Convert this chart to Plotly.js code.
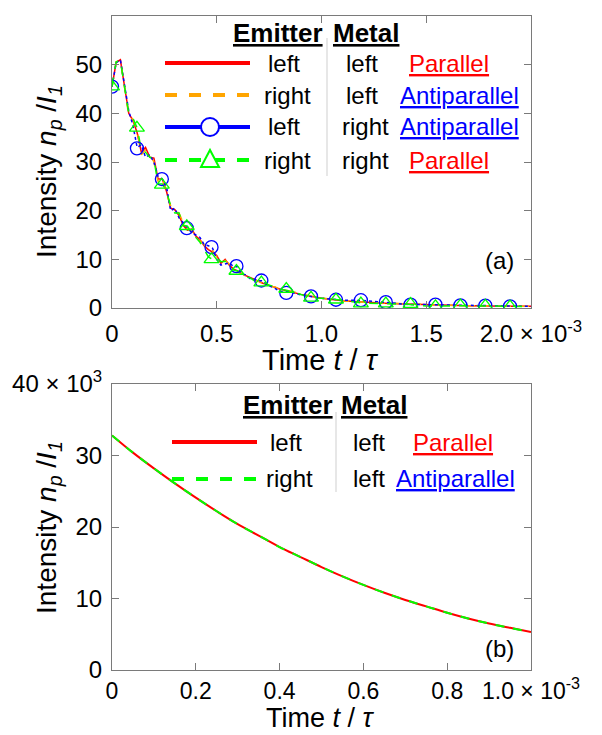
<!DOCTYPE html>
<html><head><meta charset="utf-8">
<script src="https://cdn.plot.ly/plotly-3.0.1.min.js"></script>
<style>body{margin:0;background:#fff}</style>
</head><body><div id="chart" style="width:602px;height:735px"></div>
<script>
// ---- Panel (a): time in units of 1e-3, intensity in units of 1e3 ----
const timeA = [0,0.02,0.04,0.06,0.08,0.10,0.12,0.14,0.16,0.18,0.20,0.22,0.24,0.26,0.28,0.30,0.32,0.34,0.36,0.38,0.40,0.42,0.44,0.46,0.48,0.50,0.52,0.54,0.56,0.58,0.60,0.62,0.64,0.66,0.68,0.70,0.72,0.74,0.76,0.78,0.80,0.85,0.90,0.95,1.00,1.10,1.20,1.30,1.40,1.50,1.60,1.70,1.80,1.90,2.00];
const redA    = [45.5,50.5,51.0,45.5,40.0,38.5,36.0,32.0,33.0,31.0,30.8,26.5,26.5,24.0,20.5,20.2,19.0,17.0,16.0,16.2,14.8,14.0,12.8,12.0,11.5,10.8,9.2,10.0,8.8,8.0,7.6,7.0,6.6,6.2,5.8,5.4,5.1,4.8,4.5,4.2,3.9,3.4,2.8,2.4,2.0,1.5,1.2,1.0,0.8,0.65,0.55,0.48,0.42,0.38,0.34];
const orangeA = [45.5,50.6,51.0,45.0,39.5,38.8,36.5,31.5,32.5,31.5,30.0,26.0,27.0,23.5,21.0,20.0,19.5,17.5,16.2,15.8,15.0,13.8,13.0,11.8,11.8,10.5,9.5,9.8,9.0,8.2,7.4,7.1,6.5,6.3,5.7,5.5,5.0,4.9,4.4,4.3,3.8,3.5,2.9,2.4,2.1,1.5,1.2,1.0,0.8,0.66,0.55,0.48,0.42,0.38,0.34];
const blueA   = [45.5,50.4,51.0,46.0,40.5,37.5,33.0,33.5,31.0,31.5,30.0,27.0,26.5,25.0,20.0,20.5,18.5,17.5,16.5,15.5,15.0,14.5,13.0,12.8,12.3,10.0,8.8,9.0,9.3,8.5,8.5,7.0,6.8,6.0,5.9,5.6,5.6,4.8,4.4,4.0,3.4,3.3,2.7,2.4,2.0,1.6,1.55,1.2,0.75,0.7,0.6,0.5,0.5,0.35,0.33];
const greenA  = [45.5,50.6,50.8,45.0,40.0,39.0,37.0,32.5,32.0,31.0,30.5,25.5,25.5,24.0,21.0,19.5,19.5,17.0,16.8,15.5,14.5,13.5,12.0,10.5,10.0,10.5,9.5,9.6,8.5,7.8,7.6,7.0,6.4,6.2,5.6,5.2,5.2,4.8,4.6,4.2,3.9,3.5,2.8,2.1,2.0,1.6,1.0,0.9,0.8,0.4,0.5,0.45,0.4,0.3,0.3];
const markerTimeA = [0,0.119,0.238,0.357,0.475,0.594,0.713,0.832,0.95,1.069,1.188,1.307,1.425,1.544,1.663,1.782,1.9];
const circleA   = [45.5,32.8,26.5,16.4,12.5,8.6,5.65,3.1,2.4,1.7,1.6,1.2,0.7,0.7,0.55,0.5,0.35];
const triangleA = [45.5,37.0,25.3,16.8,10.0,7.6,5.2,3.9,2.1,1.7,0.9,0.9,0.8,0.35,0.5,0.45,0.3];
const xTicksA = [0,0.5,1.0,1.5,2.0];
const xTickTextA = ["0","0.5","1.0","1.5","2.0 \u00d7 10<sup>-3</sup>"];
const yTicksA = [0,10,20,30,40,50,60];
const yTickTextA = ["0","10","20","30","40","50","60 \u00d7 10<sup>3</sup>"];

// ---- Panel (b) ----
const timeB = [0,0.05,0.10,0.15,0.20,0.25,0.30,0.35,0.40,0.45,0.50,0.55,0.60,0.65,0.70,0.75,0.80,0.85,0.90,0.95,1.00];
const redB   = [32.8,30.4,28.2,26.1,24.1,22.2,20.4,18.8,17.2,15.8,14.4,13.1,11.9,10.8,9.8,8.9,8.0,7.2,6.5,5.9,5.3];
const greenB = [32.8,30.4,28.2,26.1,24.1,22.2,20.4,18.8,17.2,15.8,14.4,13.1,11.9,10.8,9.8,8.9,8.0,7.2,6.5,5.9,5.3];
const xTicksB = [0,0.2,0.4,0.6,0.8,1.0];
const xTickTextB = ["0","0.2","0.4","0.6","0.8","1.0 \u00d7 10<sup>-3</sup>"];
const yTicksB = [0,10,20,30,40];
const yTickTextB = ["0","10","20","30","40 \u00d7 10<sup>3</sup>"];

const RED='#ff0000', ORANGE='#ffa500', BLUE='#0000ff', GREEN='#00ff00';
const FONT='Arial, "Liberation Sans", sans-serif';
const SERIF='"Liberation Serif", "Times New Roman", serif';

const traces = [
  {x:timeA,y:redA,mode:'lines',line:{color:RED,width:1.5},xaxis:'x',yaxis:'y'},
  {x:timeA,y:orangeA,mode:'lines',line:{color:ORANGE,width:1.5,dash:'dash'},xaxis:'x',yaxis:'y'},
  {x:timeA,y:blueA,mode:'lines',line:{color:BLUE,width:1.5,dash:'dot'},xaxis:'x',yaxis:'y'},
  {x:timeA,y:greenA,mode:'lines',line:{color:GREEN,width:1.5,dash:'dash'},xaxis:'x',yaxis:'y'},
  {x:markerTimeA,y:circleA,mode:'markers',marker:{symbol:'circle-open',size:13,color:BLUE,line:{width:1.3,color:BLUE}},xaxis:'x',yaxis:'y'},
  {x:markerTimeA,y:triangleA,mode:'markers',marker:{symbol:'triangle-up-open',size:13,color:GREEN,line:{width:1.3,color:GREEN}},xaxis:'x',yaxis:'y'},
  {x:timeB,y:redB,mode:'lines',line:{color:RED,width:2,shape:'spline'},xaxis:'x2',yaxis:'y2'},
  {x:timeB,y:greenB,mode:'lines',line:{color:GREEN,width:2,dash:'dash',shape:'spline'},xaxis:'x2',yaxis:'y2'}
];

// plot area geometry (px): left 112, right 531, panel a top 16 bottom 308, panel b top 384 bottom 670
const L=112, W=419, B=670, H=654;
const px=(x)=>(x-L)/W, py=(y)=>(B-y)/H;

function axis(extra){
  return Object.assign({showline:true,linecolor:'#7a7a7a',linewidth:1,mirror:'ticks',ticks:'inside',ticklen:7,
    tickcolor:'#7a7a7a',showgrid:false,zeroline:false,tickmode:'array',
    tickfont:{family:FONT,size:24,color:'#000'}},extra);
}

const ann=[], shapes=[];
function txt(x,y,text,opt){ann.push(Object.assign({xref:'paper',yref:'paper',x:px(x),y:py(y),text:text,showarrow:false,
  xanchor:'left',yanchor:'middle',font:{family:FONT,size:24,color:'#000'}},opt||{}));}
const U=(s)=>'<span style="text-decoration:underline">'+s+'</span>';

// axis titles
const yTitle='Intensity <span style="font-family:'+SERIF+'"><i>n</i><sub><i>p</i></sub> /<i>I</i><sub><i>1</i></sub></span>';
const xTitle='Time <span style="font-family:'+SERIF+'"><i>t</i> / <i>\u03c4</i></span>';
txt(48,172,yTitle,{xanchor:'center',textangle:-90,font:{family:FONT,size:28,color:'#000'}});
txt(48,528,yTitle,{xanchor:'center',textangle:-90,font:{family:FONT,size:28,color:'#000'}});
txt(320,360,xTitle,{xanchor:'center',font:{family:FONT,size:29,color:'#000'}});
txt(320,735,xTitle,{xanchor:'center',yanchor:'bottom',font:{family:FONT,size:27,color:'#000'}});
txt(499,260,'(a)',{xanchor:'center'});
txt(499,648,'(b)',{xanchor:'center'});

// legend (a)
const HEAD={family:FONT,size:26,color:'#000'};
txt(278,33,'<b>'+U('Emitter')+'</b>',{xanchor:'center',font:HEAD});
txt(366,33,'<b>'+U('Metal')+'</b>',{xanchor:'center',font:HEAD});
const rowsA=[63,95,127,160];
const emA=['left','right','left','right'], meA=['left','left','right','right'];
const ptA=[['Parallel',RED,407],['Antiparallel',BLUE,398],['Antiparallel',BLUE,398],['Parallel',RED,407]];
rowsA.forEach((y,i)=>{
  txt(i%2?262:266,y,emA[i]); txt(meA[i]==='left'?344:340,y,meA[i]);
  txt(ptA[i][2],y,U(ptA[i][0]),{font:{family:FONT,size:24,color:ptA[i][1]}});
});
shapes.push({type:'line',xref:'paper',yref:'paper',x0:px(327),x1:px(327),y0:py(38),y1:py(176),line:{color:'#cfcfcf',width:1}});
const keyA=[[RED,'solid'],[ORANGE,'dash'],[BLUE,'solid'],[GREEN,'dash']];
rowsA.forEach((y,i)=>{
  shapes.push({type:'line',xref:'paper',yref:'paper',x0:px(165),x1:px(250),y0:py(y),y1:py(y),line:{color:keyA[i][0],width:4,dash:keyA[i][1]}});
});
shapes.push({type:'circle',xref:'paper',yref:'paper',xsizemode:'pixel',ysizemode:'pixel',xanchor:px(210),yanchor:py(127),
  x0:-9,x1:9,y0:-9,y1:9,fillcolor:'#fff',line:{color:BLUE,width:2}});
shapes.push({type:'path',xref:'paper',yref:'paper',xsizemode:'pixel',ysizemode:'pixel',xanchor:px(210),yanchor:py(160),
  path:'M-9,-7L9,-7L0,10Z',fillcolor:'#fff',line:{color:GREEN,width:2}});

// legend (b)
txt(288,405,'<b>'+U('Emitter')+'</b>',{xanchor:'center',font:HEAD});
txt(374,405,'<b>'+U('Metal')+'</b>',{xanchor:'center',font:HEAD});
const rowsB=[442,479];
const emB=['left','right'];
const ptB=[['Parallel',RED,411],['Antiparallel',BLUE,394]];
rowsB.forEach((y,i)=>{
  txt(i?264:268,y,emB[i]); txt(351,y,'left');
  txt(ptB[i][2],y,U(ptB[i][0]),{font:{family:FONT,size:24,color:ptB[i][1]}});
});
shapes.push({type:'line',xref:'paper',yref:'paper',x0:px(336),x1:px(336),y0:py(412),y1:py(492),line:{color:'#cfcfcf',width:1}});
shapes.push({type:'line',xref:'paper',yref:'paper',x0:px(172),x1:px(257),y0:py(442),y1:py(442),line:{color:RED,width:4}});
shapes.push({type:'line',xref:'paper',yref:'paper',x0:px(172),x1:px(257),y0:py(479),y1:py(479),line:{color:GREEN,width:4,dash:'dash'}});

const layout={
  width:602,height:735,margin:{l:112,r:71,t:16,b:65},paper_bgcolor:'#fff',plot_bgcolor:'#fff',showlegend:false,
  font:{family:FONT,color:'#000'},
  xaxis:axis({anchor:'y',domain:[0,1],range:[0,2.0],tickvals:xTicksA,ticktext:xTickTextA,ticklabelstandoff:4}),
  yaxis:axis({anchor:'x',domain:[py(308),1],range:[0,60],tickvals:yTicksA,ticktext:yTickTextA,ticklabelstandoff:4}),
  xaxis2:axis({anchor:'y2',domain:[0,1],range:[0,1.0],tickvals:xTicksB,ticktext:xTickTextB,ticklabelstandoff:0,
    tickfont:{family:FONT,size:23,color:'#000'}}),
  yaxis2:axis({anchor:'x2',domain:[0,py(384)],range:[0,40],tickvals:yTicksB,ticktext:yTickTextB,ticklabelstandoff:4}),
  annotations:ann,shapes:shapes
};
Plotly.newPlot('chart',traces,layout,{displayModeBar:false,staticPlot:true});
</script></body></html>
